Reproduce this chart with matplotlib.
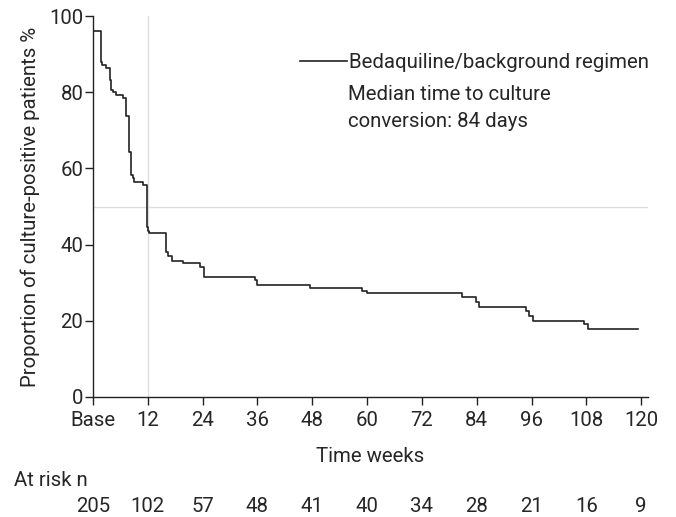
import matplotlib
matplotlib.use("Agg")
import matplotlib.pyplot as plt

plt.rcParams['font.family'] = ['Roboto', 'DejaVu Sans']

# Kaplan-Meier steps (weeks, % culture-positive)
weeks = [0, 1.7, 1.9, 2.8, 3.7, 3.9, 4.3, 5.0, 6.6, 7.3, 7.9, 8.3, 8.7, 9.0,
         11.0, 11.8, 12.1, 12.3, 16.0, 16.4, 17.2, 19.8, 23.4, 24.2, 35.5,
         36.0, 47.4, 58.8, 59.9, 80.7, 83.9, 84.6, 94.8, 95.5, 96.4, 107.4,
         108.3, 119.4]
pct_positive = [96.1, 88.0, 87.1, 86.3, 83.2, 80.6, 80.0, 79.3, 78.4, 73.8,
                64.4, 58.3, 57.4, 56.5, 55.6, 44.7, 43.6, 43.0, 38.0, 37.0,
                35.8, 35.1, 34.2, 31.6, 30.8, 29.4, 28.5, 27.9, 27.2, 26.3,
                25.0, 23.7, 22.6, 21.3, 20.0, 19.2, 17.8, 17.8]

tick_weeks = [0, 12, 24, 36, 48, 60, 72, 84, 96, 108, 120]
tick_labels = ['Base', '12', '24', '36', '48', '60', '72', '84', '96', '108', '120']
at_risk = [205, 102, 57, 48, 41, 40, 34, 28, 21, 16, 9]

fig = plt.figure(figsize=(6.76, 5.17), dpi=100)
ax = fig.add_axes([93/676, 1 - 397/517, (648 - 93)/676, (397 - 16)/517])

fs = 14.7
txt = '#262626'

# median reference lines
ax.axhline(50, color='#dddddd', lw=1, zorder=1)
ax.axvline(12, color='#dddddd', lw=1, zorder=1)

ax.step(weeks, pct_positive, where='post', color='#222222', lw=1.2, zorder=3,
        label='Bedaquiline/background regimen')

ax.set_xlim(0, 121.5)
ax.set_ylim(0, 100)
ax.set_xticks(tick_weeks)
ax.set_xticklabels(tick_labels)
ax.set_yticks(range(0, 101, 20))
for s in ['top', 'right']:
    ax.spines[s].set_visible(False)
for s in ['left', 'bottom']:
    ax.spines[s].set_color('#222222')
    ax.spines[s].set_linewidth(1)
ax.tick_params(direction='out', length=6, width=1, color='#222222',
               labelsize=fs, labelcolor=txt)
ax.tick_params(axis='x', pad=4)
ax.tick_params(axis='y', pad=1)

ax.set_ylabel('Proportion of culture-positive patients %', fontsize=fs,
              color=txt, va='center')
ax.yaxis.set_label_coords(-(93 - 30)/555, 0.5)
ax.set_xlabel('Time weeks', fontsize=fs, color=txt, va='center')
ax.xaxis.set_label_coords(0.5, -(456 - 397)/381)

# legend entry and median note
ax.legend(loc='center left', bbox_to_anchor=(300/676, 1 - 63/517),
          bbox_transform=fig.transFigure, frameon=False, fontsize=fs,
          handlelength=2.3, handletextpad=0.1, borderaxespad=0, borderpad=0,
          labelcolor=txt)
fig.text(348/676, 1 - 108/517, 'Median time to culture\nconversion: 84 days',
         fontsize=fs, color=txt, ha='left', va='center', linespacing=1.55)

# numbers at risk
fig.text(14/676, 1 - 481/517, 'At risk n', fontsize=fs, color=txt,
         ha='left', va='center')
for w, n in zip(tick_weeks, at_risk):
    ax.text(w, -(507 - 397)/381, str(n), transform=ax.get_xaxis_transform(),
            fontsize=fs, color=txt, ha='center', va='center')

fig.savefig('out.png', dpi=100)
